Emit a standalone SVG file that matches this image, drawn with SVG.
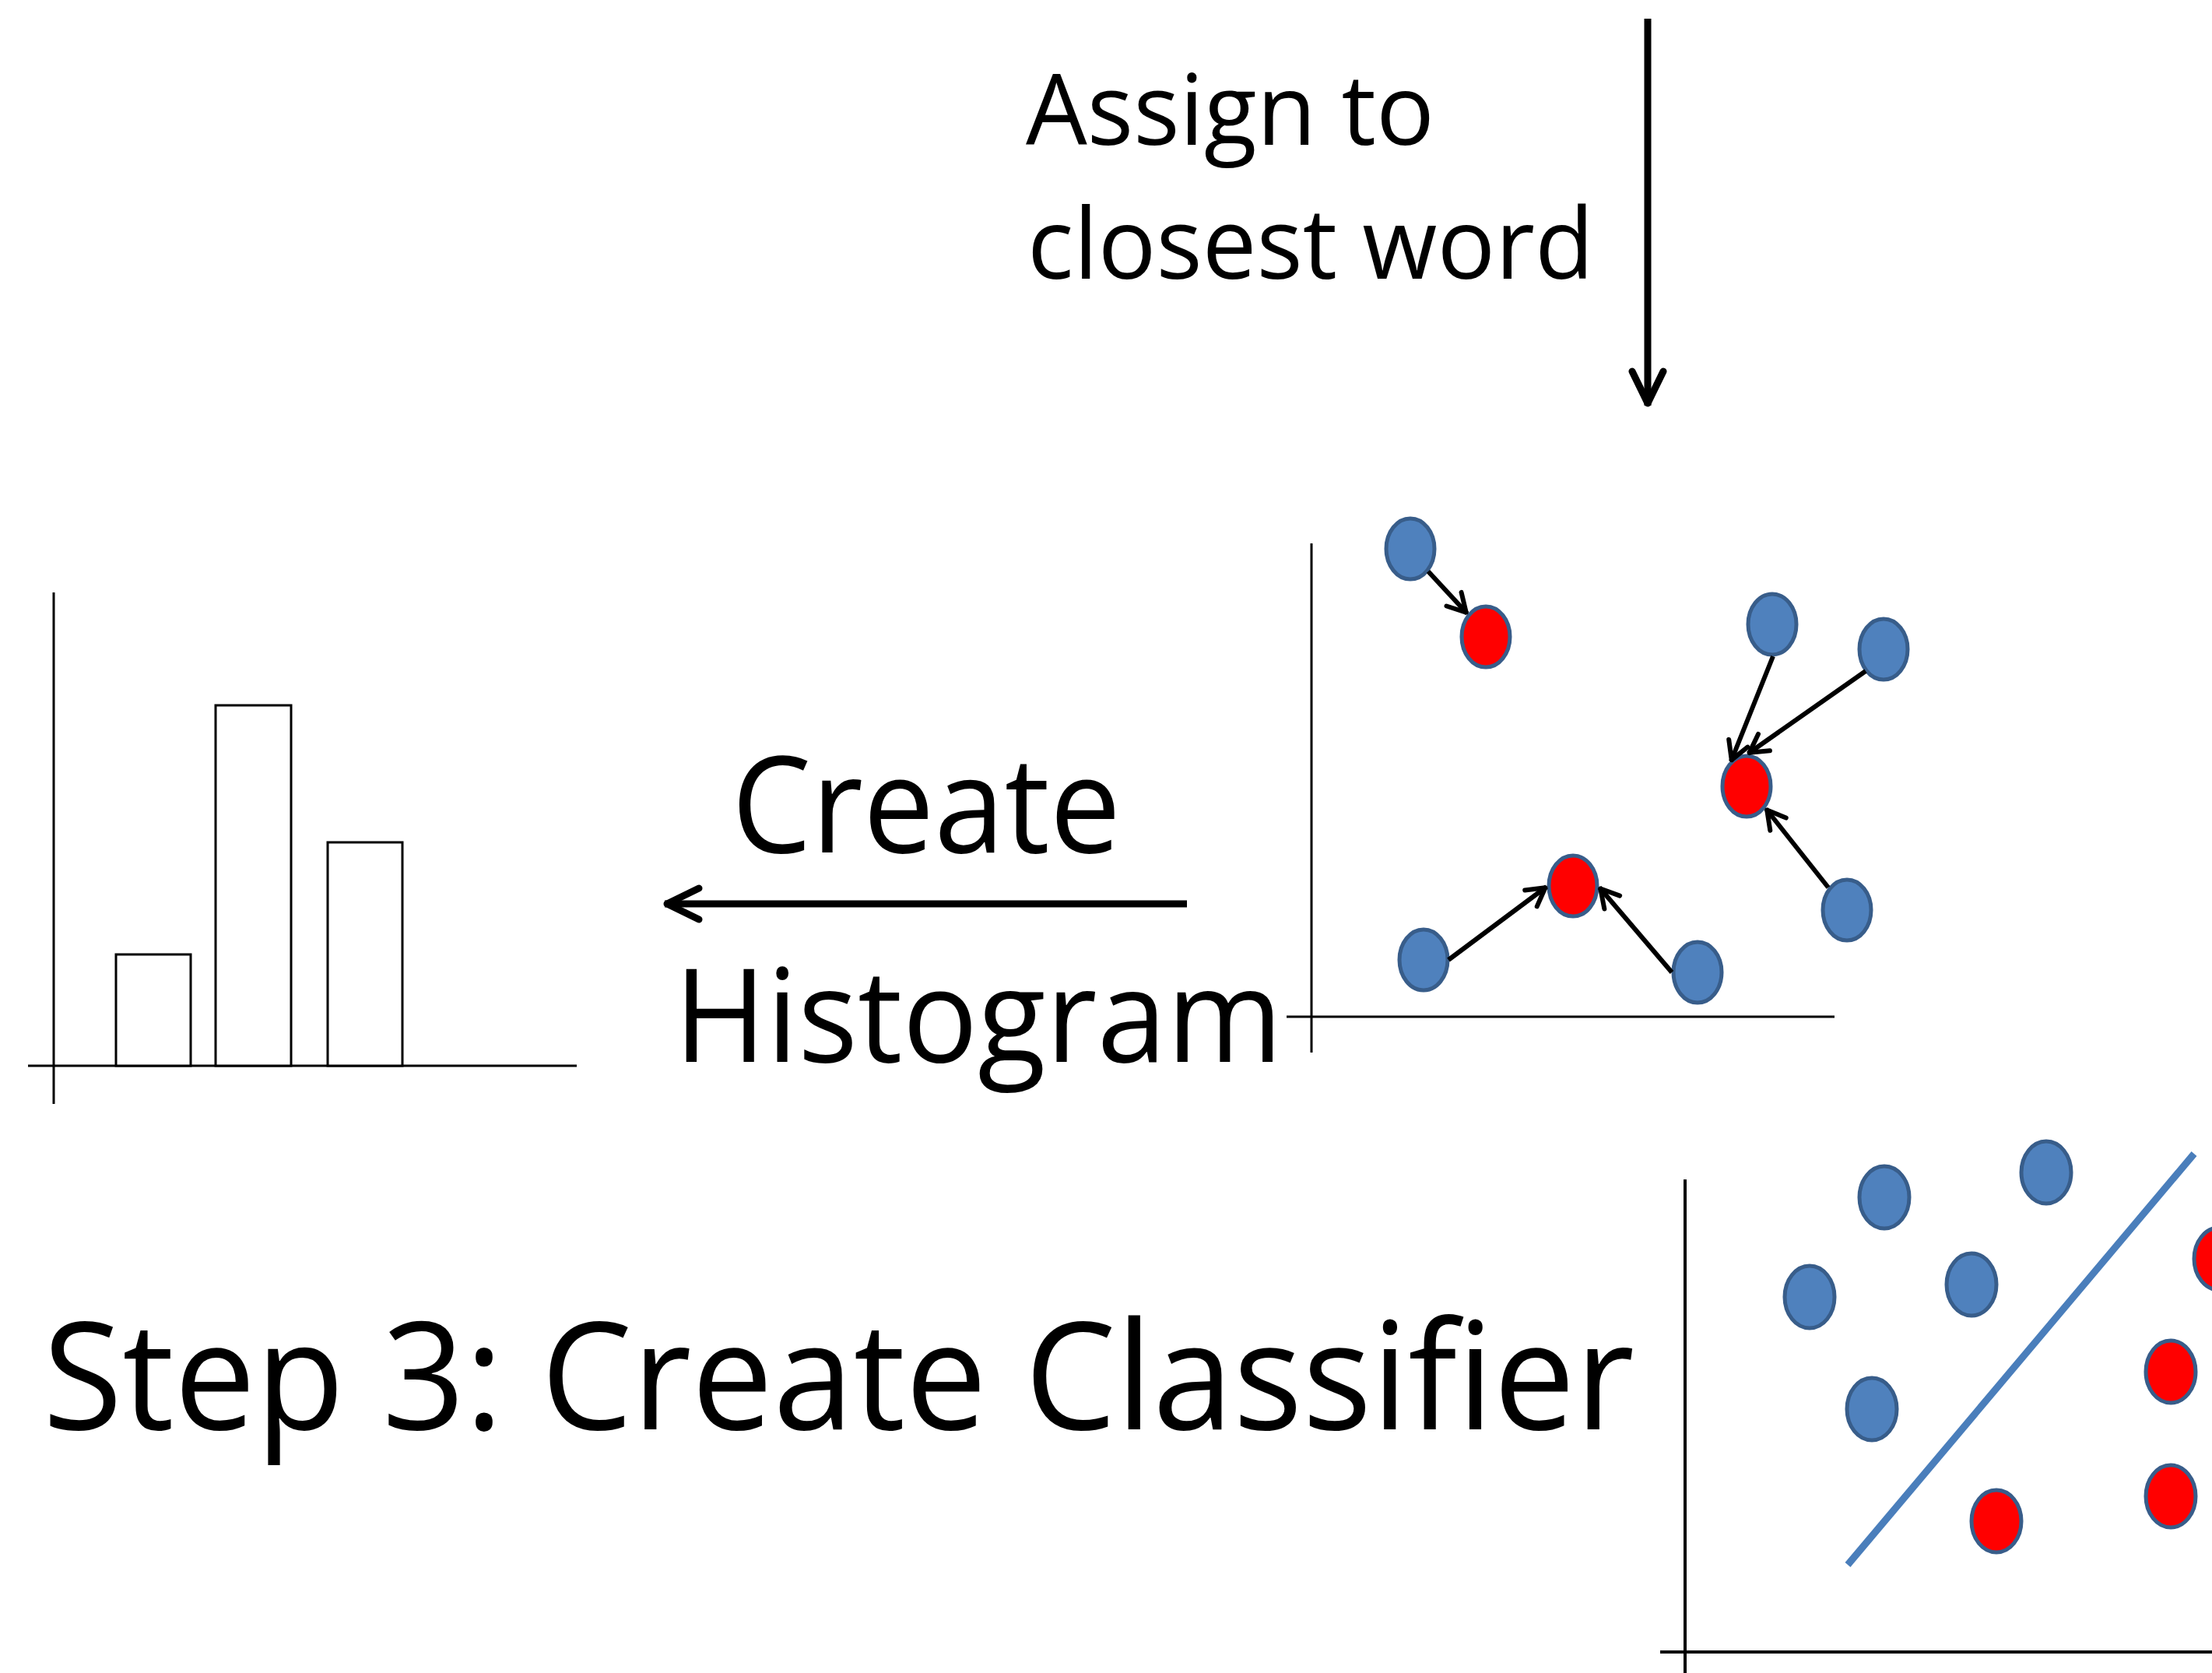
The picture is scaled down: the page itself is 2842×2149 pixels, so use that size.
<svg xmlns="http://www.w3.org/2000/svg" width="2842" height="2149" viewBox="0 0 2842 2149">
<style>
text{font-family:"Open Sans","Liberation Sans",sans-serif;fill:#000;font-variant-ligatures:none}
.axis{stroke:#000;stroke-width:3;fill:none}
.bar{stroke:#000;stroke-width:3;fill:#fff}
.blue{fill:#4f81bd;stroke:#385d8a;stroke-width:5}
.red{fill:#ff0000;stroke:#385d8a;stroke-width:5}
.small{stroke:#000;stroke-width:6;fill:none;marker-end:url(#ah)}
.big{stroke:#000;stroke-width:9;fill:none;marker-end:url(#bh)}
</style>
<defs>
<marker id="ah" markerUnits="userSpaceOnUse" viewBox="-34 -20 40 40" markerWidth="40" markerHeight="40" refX="0" refY="0" orient="auto" overflow="visible">
<path d="M-25,-13 L-2,0 L-25,13" fill="none" stroke="#000" stroke-width="6" stroke-linecap="round" stroke-linejoin="round"/>
</marker>
<marker id="bh" markerUnits="userSpaceOnUse" viewBox="-56 -30 64 60" markerWidth="64" markerHeight="60" refX="0" refY="0" orient="auto" overflow="visible">
<path d="M-44,-20 L-3,0 L-44,20" fill="none" stroke="#000" stroke-width="9" stroke-linecap="round" stroke-linejoin="round"/>
</marker>
</defs>
<rect width="2842" height="2149" fill="#fff"/>

<g id="label-assign">
<text x="1318" y="186" font-size="126" textLength="525" lengthAdjust="spacingAndGlyphs">Assign to</text>
<text x="1320" y="358" font-size="126" textLength="728" lengthAdjust="spacingAndGlyphs">closest word</text>
</g>

<g id="label-create-histogram">
<text x="940" y="1095" font-size="172" textLength="500" lengthAdjust="spacingAndGlyphs">Create</text>
<text x="866" y="1364" font-size="167" textLength="782" lengthAdjust="spacingAndGlyphs">Histogram</text>
</g>

<g id="label-step3">
<text x="55" y="1836" font-size="193" textLength="2045" lengthAdjust="spacingAndGlyphs">Step 3: Create Classifier</text>
</g>

<g id="histogram">
<line class="axis" x1="69" y1="761" x2="69" y2="1418"/>
<line class="axis" x1="36" y1="1369" x2="741" y2="1369"/>
<rect class="bar" x="149" y="1226" width="96" height="143"/>
<rect class="bar" x="277" y="906" width="97" height="463"/>
<rect class="bar" x="421" y="1082" width="96" height="287"/>
</g>

<g id="assignment-plot">
<line class="axis" x1="1685" y1="698" x2="1685" y2="1352"/>
<line class="axis" x1="1653" y1="1306" x2="2357" y2="1306"/>
<ellipse class="blue" cx="1812" cy="705" rx="31" ry="39"/>
<ellipse class="red" cx="1909" cy="818" rx="31" ry="39"/>
<ellipse class="blue" cx="2277" cy="802" rx="31" ry="39"/>
<ellipse class="blue" cx="2420" cy="834" rx="31" ry="39"/>
<ellipse class="red" cx="2244" cy="1010" rx="31" ry="39"/>
<ellipse class="blue" cx="2373" cy="1169" rx="31" ry="39"/>
<ellipse class="red" cx="2021" cy="1138" rx="31" ry="39"/>
<ellipse class="blue" cx="1829" cy="1233" rx="31" ry="39"/>
<ellipse class="blue" cx="2181" cy="1249" rx="31" ry="39"/>
</g>

<g id="classifier-plot">
<line class="axis" x1="2165" y1="1515" x2="2165" y2="2149" style="stroke-width:4"/>
<line class="axis" x1="2133" y1="2122" x2="2842" y2="2122" style="stroke-width:4"/>
<line x1="2374" y1="2010" x2="2819" y2="1482" stroke="#4a7ebb" stroke-width="9"/>
<ellipse class="blue" cx="2421" cy="1538" rx="32" ry="40"/>
<ellipse class="blue" cx="2629" cy="1506" rx="32" ry="40"/>
<ellipse class="blue" cx="2325" cy="1666" rx="32" ry="40"/>
<ellipse class="blue" cx="2533" cy="1650" rx="32" ry="40"/>
<ellipse class="blue" cx="2405" cy="1810" rx="32" ry="40"/>
<ellipse class="red" cx="2851" cy="1617" rx="32" ry="40"/>
<ellipse class="red" cx="2789" cy="1762" rx="32" ry="40"/>
<ellipse class="red" cx="2789" cy="1922" rx="32" ry="40"/>
<ellipse class="red" cx="2565" cy="1954" rx="32" ry="40"/>
</g>

<g id="connectors">
<line class="big" x1="2117" y1="24" x2="2117" y2="521"/>
<line class="big" x1="1525" y1="1161" x2="854" y2="1161"/>
<line class="small" x1="1835" y1="734" x2="1885" y2="788"/>
<line class="small" x1="2278" y1="843" x2="2224" y2="978"/>
<line class="small" x1="2397" y1="862" x2="2246" y2="968"/>
<line class="small" x1="2349" y1="1140" x2="2269" y2="1039"/>
<line class="small" x1="1861" y1="1233" x2="1987" y2="1139"/>
<line class="small" x1="2148" y1="1249" x2="2055" y2="1140"/>
</g>
</svg>
